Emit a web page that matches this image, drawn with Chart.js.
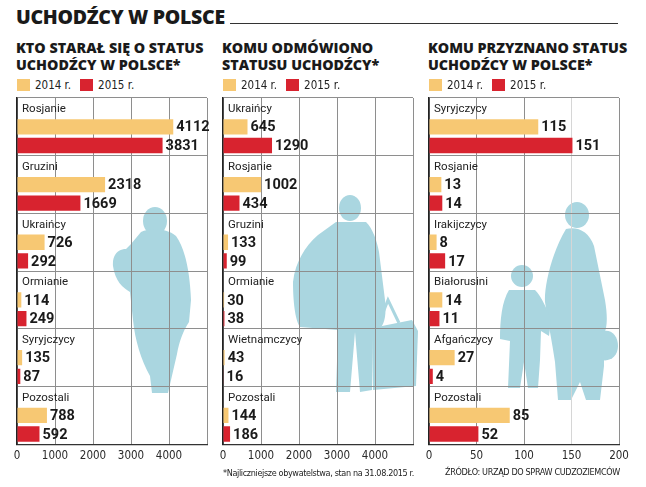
<!DOCTYPE html>
<html lang="pl">
<head>
<meta charset="utf-8">
<script src="https://cdn.jsdelivr.net/npm/chart.js@4.4.1/dist/chart.umd.min.js"></script>
<style>
  html,body{margin:0;padding:0;background:#fff;}
  body{width:646px;height:487px;position:relative;overflow:hidden;font-family:Roboto,"Noto Sans",sans-serif;color:#1a1a1a;}
  .abs{position:absolute;}
  #mainTitle{left:16px;top:4px;font-family:"Open Sans",Lato,Roboto,sans-serif;font-weight:800;font-size:19.5px;line-height:26px;letter-spacing:-0.3px;color:#1a1a1a;white-space:nowrap;}
  #mainRule{left:230px;top:23px;width:388px;height:0;border-top:1.3px solid #333;}
  .ptitle{font-family:"Open Sans",Lato,Roboto,sans-serif;font-weight:800;font-size:14.3px;line-height:16.5px;color:#1a1a1a;white-space:nowrap;}
  .legend{display:flex;align-items:center;font-family:"Liberation Sans Narrow","DejaVu Sans Condensed",sans-serif;font-size:11.5px;color:#222;white-space:nowrap;}
  .legend .sw{width:13px;height:12px;display:inline-block;margin-right:5px;}
  .legend .item{display:flex;align-items:center;margin-right:9px;}
  .note{font-family:"Liberation Sans Narrow","DejaVu Sans Condensed",sans-serif;font-size:9px;letter-spacing:-0.35px;color:#222;white-space:nowrap;text-align:right;}
  .box{position:absolute;}
  svg.sil{position:absolute;left:0;top:0;}
</style>
</head>
<body>
<script>
// ---------- DATA ----------
const seriesLabels = ['2014 r.', '2015 r.'];

const appliedTitle = ['KTO STARAŁ SIĘ O STATUS', 'UCHODŹCY W POLSCE*'];
const appliedCategories = ['Rosjanie', 'Gruzini', 'Ukraińcy', 'Ormianie', 'Syryjczycy', 'Pozostali'];
const applied2014 = [4112, 2318, 726, 114, 135, 788];
const applied2015 = [3831, 1669, 292, 249, 87, 592];

const refusedTitle = ['KOMU ODMÓWIONO', 'STATUSU UCHODŹCY*'];
const refusedCategories = ['Ukraińcy', 'Rosjanie', 'Gruzini', 'Ormianie', 'Wietnamczycy', 'Pozostali'];
const refused2014 = [645, 1002, 133, 30, 43, 144];
const refused2015 = [1290, 434, 99, 38, 16, 186];

const grantedTitle = ['KOMU PRZYZNANO STATUS', 'UCHODŹCY W POLSCE*'];
const grantedCategories = ['Syryjczycy', 'Rosjanie', 'Irakijczycy', 'Białorusini', 'Afgańczycy', 'Pozostali'];
const granted2014 = [115, 13, 8, 14, 27, 85];
const granted2015 = [151, 14, 17, 11, 4, 52];

const thousandsTicks = [0, 1000, 2000, 3000, 4000];
const grantedTicks = [0, 50, 100, 150, 200];

const mainTitle = 'UCHODŹCY W POLSCE';
const footnote = '*Najliczniejsze obywatelstwa, stan na 31.08.2015 r.';
const sourceNote = 'ŹRÓDŁO: URZĄD DO SPRAW CUDZOZIEMCÓW';
</script>

<div id="mainTitle" class="abs"></div>
<div id="mainRule" class="abs"></div>

<svg class="sil" width="646" height="487" viewBox="0 0 646 487">
  <g fill="#aad6e0">
    <!-- panel 1: woman with child -->
    <ellipse cx="155" cy="221" rx="12" ry="14"/>
    <path d="M141,232 C150,228 166,228 176,236 C186,250 190,275 191,300 L189,322 C183,331 179,342 177,354 L171,380 L168,393 L152,393 L150,376 C141,360 135,340 133,320 L130,292 C123,288 115,281 113,266 C112,255 118,249 126,249 L131,244 Z"/>
    <!-- panel 2: man with bag -->
    <ellipse cx="350" cy="208" rx="11" ry="13"/>
    <path d="M336,222 L366,222 C373,229 377,241 379,252 L385,300 C387,318 383,328 378,329 L373,329 L372,390 L360,392 L355,332 L350,392 L336,392 L338,330 L300,327 C295,320 293,300 293,282 C295,263 305,246 318,235 Z"/>
    <path d="M372,328 L412,320 L418,331 L416,386 L373,390 Z"/>
    <path d="M379,323 L388,300 L399,323" fill="none" stroke="#aad6e0" stroke-width="3"/>
    <!-- panel 3: woman and child -->
    <ellipse cx="577" cy="215" rx="12" ry="13"/>
    <path d="M566,229 C577,226 589,231 594,246 L605,300 C608,318 607,328 604,334 L604,366 L600,400 L586,400 L580,382 L571,400 L558,400 L555,362 C552,342 548,322 545,302 C544,286 552,252 566,229 Z"/>
    <path d="M601,332 C610,328 618,335 618,346 C618,356 610,362 602,360 Z"/>
    <circle cx="522" cy="276" r="11"/>
    <path d="M509,290 L535,290 C541,296 548,310 551,321 L549,336 L541,331 L540,360 L538,388 L528,388 L524,362 L520,388 L508,388 L510,341 L500,339 C500,320 502,301 509,290 Z"/>
  </g>
</svg>

<div id="panels"></div>
<div id="footnote" class="abs note"></div>
<div id="source" class="abs note"></div>

<script>
document.getElementById('mainTitle').textContent = mainTitle;
const fn = document.getElementById('footnote');
fn.textContent = footnote; fn.style.right = (646 - 414) + 'px'; fn.style.top = '468px';
const sn = document.getElementById('source');
sn.textContent = sourceNote; sn.style.right = (646 - 620) + 'px'; sn.style.top = '467px';

const YELLOW = '#f7c873';
const RED = '#d8232f';
const NARROW = '"Liberation Sans Narrow","DejaVu Sans Condensed",sans-serif';

const panels = [
  {title: appliedTitle, cats: appliedCategories, a: applied2014, b: applied2015, ticks: thousandsTicks, left: 17},
  {title: refusedTitle, cats: refusedCategories, a: refused2014, b: refused2015, ticks: thousandsTicks, left: 223},
  {title: grantedTitle, cats: grantedCategories, a: granted2014, b: granted2015, ticks: grantedTicks, left: 429}
];

const PLOT_W = 190, PLOT_TOP = 98;
const PADX = 16;

const labelPlugin = {
  id: 'groupLabels',
  afterDraw(chart) {
    const {ctx, chartArea, scales: {y}} = chart;
    const band = y.getPixelForValue(1) - y.getPixelForValue(0);
    ctx.save();
    ctx.textBaseline = 'middle';
    ctx.textAlign = 'left';
    ctx.font = '11.5px Roboto, "Noto Sans", sans-serif';
    ctx.fillStyle = '#222';
    chart.data.labels.forEach((lab, i) => {
      const top = y.getPixelForValue(i) - band / 2;
      ctx.fillText(lab, chartArea.left + 5, top + 11.5);
    });
    ctx.font = 'bold 14.5px Roboto, "Noto Sans", sans-serif';
    ctx.fillStyle = '#1a1a1a';
    [1, 2].forEach(di => {
      const meta = chart.getDatasetMeta(di);
      const vals = chart.data.datasets[di].data;
      meta.data.forEach((bar, i) => {
        ctx.fillText(String(vals[i]), bar.x + 3, bar.y + 1);
      });
    });
    ctx.restore();
  }
};

const container = document.getElementById('panels');
panels.forEach((p) => {
  const t = document.createElement('div');
  t.className = 'abs ptitle';
  t.style.left = (p.left - 1) + 'px';
  t.style.top = '40px';
  t.innerHTML = p.title.join('<br>');
  container.appendChild(t);

  const lg = document.createElement('div');
  lg.className = 'abs legend';
  lg.style.left = p.left + 'px';
  lg.style.top = '78px';
  [YELLOW, RED].forEach((c, i) => {
    const it = document.createElement('span');
    it.className = 'item';
    const sw = document.createElement('span');
    sw.className = 'sw'; sw.style.background = c;
    it.appendChild(sw);
    it.appendChild(document.createTextNode(seriesLabels[i]));
    lg.appendChild(it);
  });
  container.appendChild(lg);

  const box = document.createElement('div');
  box.className = 'box';
  box.style.left = (p.left - PADX) + 'px';
  box.style.top = (PLOT_TOP - 2) + 'px';
  box.style.width = (PLOT_W + 2 * PADX) + 'px';
  box.style.height = '372px';
  const cv = document.createElement('canvas');
  box.appendChild(cv);
  container.appendChild(box);

  const step = p.ticks[1] - p.ticks[0];
  const isGranted = p.ticks === grantedTicks;
  const maxV = p.ticks[p.ticks.length - 1] + (isGranted ? 0 : step);

  new Chart(cv, {
    type: 'bar',
    data: {
      labels: p.cats,
      datasets: [
        {label: '', data: [], backgroundColor: 'rgba(0,0,0,0)'},
        {label: seriesLabels[0], data: p.a, backgroundColor: YELLOW},
        {label: seriesLabels[1], data: p.b, backgroundColor: RED}
      ]
    },
    options: {
      indexAxis: 'y',
      responsive: true,
      maintainAspectRatio: false,
      animation: false,
      devicePixelRatio: 1,
      categoryPercentage: 0.97,
      barPercentage: 0.82,
      layout: {padding: {left: PADX, right: PADX, top: 2, bottom: 0}},
      plugins: {legend: {display: false}, tooltip: {enabled: false}, title: {display: false}},
      scales: {
        x: {
          type: 'linear',
          min: 0,
          max: maxV,
          z: 1,
          afterBuildTicks: (scale) => {
            const arr = [];
            for (let v = 0; v <= maxV + 1e-9; v += step) arr.push({value: v});
            scale.ticks = arr;
          },
          ticks: {
            padding: 5,
            color: '#2a2a2a',
            font: {family: NARROW, size: 11.5},
            maxRotation: 0,
            autoSkip: false,
            callback: (v) => p.ticks.includes(v) ? String(v) : ''
          },
          grid: {
            drawTicks: false,
            lineWidth: 1,
            color: (c) => (isGranted && c.tick && c.tick.value === 150) ? '#d6d6d6' : '#8e8e8e'
          },
          border: {display: true, color: '#333', width: 1.3}
        },
        y: {
          type: 'category',
          offset: true,
          ticks: {display: false},
          grid: {offset: true, drawTicks: false, color: '#8e8e8e', lineWidth: 1},
          border: {display: true, color: '#222', width: 1.6}
        }
      }
    },
    plugins: [labelPlugin]
  });
});
</script>
</body>
</html>
